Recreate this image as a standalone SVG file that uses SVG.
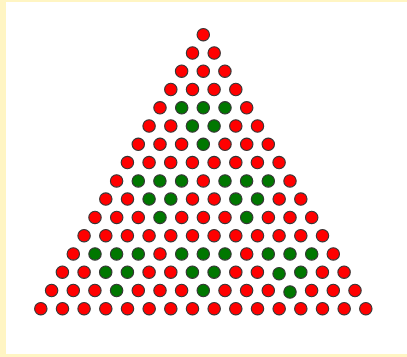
<svg xmlns="http://www.w3.org/2000/svg" width="407" height="357" viewBox="0 0 407 357">
<style>
circle{stroke:#333;stroke-width:1.1}
.r{fill:#ff0000}
.g{fill:#007700}
</style>
<rect x="0" y="0" width="407" height="357" fill="#fff5c3"/>
<rect x="6" y="2" width="401" height="352" fill="#ffffff"/>
<defs>
<circle id="R" r="6.2" class="r"/>
<circle id="G" r="6.2" class="g"/>
</defs>
<g id="row1" transform="translate(203.3,34.7)"><use href="#R" x="0"/></g>
<g id="row2" transform="translate(192.5,53)"><use href="#R" x="0"/><use href="#R" x="21.7"/></g>
<g id="row3" transform="translate(181.6,71.2)"><use href="#R" x="0"/><use href="#R" x="21.7"/><use href="#R" x="43.3"/></g>
<g id="row4" transform="translate(170.8,89.5)"><use href="#R" x="0"/><use href="#R" x="21.7"/><use href="#R" x="43.3"/><use href="#R" x="65"/></g>
<g id="row5" transform="translate(160,107.8)"><use href="#R" x="0"/><use href="#G" x="21.7"/><use href="#G" x="43.3"/><use href="#G" x="65"/><use href="#R" x="86.7"/></g>
<g id="row6" transform="translate(149.1,126)"><use href="#R" x="0"/><use href="#R" x="21.7"/><use href="#G" x="43.3"/><use href="#G" x="65"/><use href="#R" x="86.7"/><use href="#R" x="108.4"/></g>
<g id="row7" transform="translate(138.3,144.3)"><use href="#R" x="0"/><use href="#R" x="21.7"/><use href="#R" x="43.3"/><use href="#G" x="65"/><use href="#R" x="86.7"/><use href="#R" x="108.4"/><use href="#R" x="130"/></g>
<g id="row8" transform="translate(127.4,162.6)"><use href="#R" x="0"/><use href="#R" x="21.7"/><use href="#R" x="43.3"/><use href="#R" x="65"/><use href="#R" x="86.7"/><use href="#R" x="108.4"/><use href="#R" x="130"/><use href="#R" x="151.7"/></g>
<g id="row9" transform="translate(116.6,180.9)"><use href="#R" x="0"/><use href="#G" x="21.7"/><use href="#G" x="43.3"/><use href="#G" x="65"/><use href="#R" x="86.7"/><use href="#G" x="108.4"/><use href="#G" x="130"/><use href="#G" x="151.7"/><use href="#R" x="173.4"/></g>
<g id="row10" transform="translate(105.8,199.1)"><use href="#R" x="0"/><use href="#R" x="21.7"/><use href="#G" x="43.3"/><use href="#G" x="65"/><use href="#R" x="86.7"/><use href="#R" x="108.4"/><use href="#G" x="130"/><use href="#G" x="151.7"/><use href="#R" x="173.4"/><use href="#R" x="195"/></g>
<g id="row11" transform="translate(95,217.4)"><use href="#R" x="0"/><use href="#R" x="21.7"/><use href="#R" x="43.3"/><use href="#G" x="65"/><use href="#R" x="86.7"/><use href="#R" x="108.4"/><use href="#R" x="130"/><use href="#G" x="151.7"/><use href="#R" x="173.4"/><use href="#R" x="195"/><use href="#R" x="216.7"/></g>
<g id="row12" transform="translate(84.1,235.7)"><use href="#R" x="0"/><use href="#R" x="21.7"/><use href="#R" x="43.3"/><use href="#R" x="65"/><use href="#R" x="86.7"/><use href="#R" x="108.4"/><use href="#R" x="130"/><use href="#R" x="151.7"/><use href="#R" x="173.4"/><use href="#R" x="195"/><use href="#R" x="216.7"/><use href="#R" x="238.4"/></g>
<g id="row13" transform="translate(73.3,253.9)"><use href="#R" x="0"/><use href="#G" x="21.7"/><use href="#G" x="43.3"/><use href="#G" x="65"/><use href="#R" x="86.7"/><use href="#G" x="108.4"/><use href="#G" x="130"/><use href="#G" x="151.7"/><use href="#R" x="173.4"/><use href="#G" x="195"/><use href="#G" x="216.7"/><use href="#G" x="238.4"/><use href="#R" x="260"/></g>
<g id="row14" transform="translate(62.4,272.2)"><use href="#R" x="0"/><use href="#R" x="21.7"/><use href="#G" x="43.3"/><use href="#G" x="65"/><use href="#R" x="86.7"/><use href="#R" x="108.4"/><use href="#G" x="130"/><use href="#G" x="151.7"/><use href="#R" x="173.4"/><use href="#R" x="195"/><use href="#G" x="216.7" y="1.5"/><use href="#G" x="238.4"/><use href="#R" x="260"/><use href="#R" x="281.7"/></g>
<g id="row15" transform="translate(51.6,290.5)"><use href="#R" x="0"/><use href="#R" x="21.7"/><use href="#R" x="43.3"/><use href="#G" x="65"/><use href="#R" x="86.7"/><use href="#R" x="108.4"/><use href="#R" x="130"/><use href="#G" x="151.7"/><use href="#R" x="173.4"/><use href="#R" x="195"/><use href="#R" x="216.7"/><use href="#G" x="238.4" y="1.5"/><use href="#R" x="260"/><use href="#R" x="281.7"/><use href="#R" x="303.4"/></g>
<g id="row16" transform="translate(40.8,308.7)"><use href="#R" x="0"/><use href="#R" x="21.7"/><use href="#R" x="43.3"/><use href="#R" x="65"/><use href="#R" x="86.7"/><use href="#R" x="108.4"/><use href="#R" x="130"/><use href="#R" x="151.7"/><use href="#R" x="173.4"/><use href="#R" x="195"/><use href="#R" x="216.7"/><use href="#R" x="238.4"/><use href="#R" x="260"/><use href="#R" x="281.7"/><use href="#R" x="303.4"/><use href="#R" x="325"/></g>
</svg>
